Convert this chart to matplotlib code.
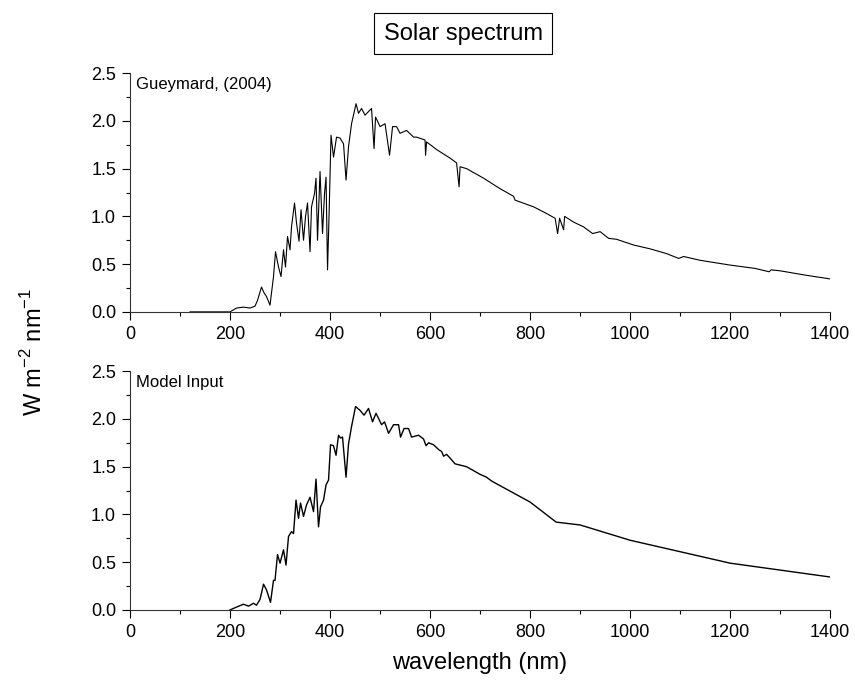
import numpy as np
import matplotlib
matplotlib.use("Agg")
import matplotlib.pyplot as plt
from matplotlib.ticker import MultipleLocator

plt.rcParams['font.family'] = ['Liberation Sans', 'DejaVu Sans']

# Gueymard (2004) spectrum (nm, W m-2 nm-1)
gue_wl = [120, 140, 160, 180, 200, 213, 227, 240, 250, 255, 263, 268, 273, 280, 287,
          291, 297, 302, 307, 311, 315, 320, 323, 329, 333, 338, 342, 347, 351, 355,
          360, 363, 369, 372, 375, 380, 385, 389, 392, 395, 398, 402, 407, 413, 420,
          427, 432, 437, 443, 452, 457, 463, 470, 483, 488, 491, 500, 510, 519, 525,
          533, 540, 553, 567, 573, 590, 591, 593, 613, 640, 653, 658, 660, 673, 707,
          740, 767, 770, 807, 833, 850, 855, 859, 867, 869, 887, 907, 925, 940, 957,
          973, 1007, 1040, 1073, 1097, 1107, 1140, 1200, 1250, 1278, 1282, 1300, 1350,
          1400]
gue_val = [0.0, 0.0, 0.0, 0.0, 0.0, 0.04, 0.05, 0.04, 0.06, 0.12, 0.26, 0.20, 0.16, 0.07, 0.37,
           0.63, 0.47, 0.37, 0.65, 0.47, 0.79, 0.65, 0.89, 1.14, 0.93, 0.74, 1.07, 0.75, 1.00, 1.14,
           0.63, 1.10, 1.24, 1.40, 0.75, 1.47, 0.82, 1.24, 1.41, 0.44, 1.00, 1.85, 1.62, 1.83, 1.82,
           1.76, 1.38, 1.73, 1.97, 2.18, 2.08, 2.13, 2.06, 2.13, 1.71, 2.04, 1.94, 1.97, 1.64, 1.94,
           1.94, 1.87, 1.90, 1.83, 1.83, 1.80, 1.64, 1.78, 1.70, 1.61, 1.56, 1.31, 1.52, 1.50, 1.40,
           1.29, 1.21, 1.17, 1.10, 1.03, 0.98, 0.82, 0.98, 0.86, 1.00, 0.94, 0.89, 0.82, 0.84, 0.77,
           0.76, 0.70, 0.66, 0.61, 0.56, 0.58, 0.54, 0.49, 0.455, 0.42, 0.44, 0.43, 0.385,
           0.345]

# Model input spectrum
mod_wl = [200, 213, 227, 237, 247, 253, 260, 267, 273, 281, 287, 290, 295, 300, 307,
          312, 317, 323, 327, 332, 337, 341, 347, 353, 360, 367, 372, 377, 381, 387,
          392, 397, 401, 407, 412, 417, 421, 425, 432, 437, 443, 451, 460, 468, 477,
          485, 492, 503, 509, 517, 527, 537, 541, 548, 557, 563, 577, 587, 592, 597,
          607, 617, 623, 627, 633, 640, 650, 673, 700, 713, 723, 800, 852, 900, 1000,
          1100, 1200, 1400]
mod_val = [0.0, 0.03, 0.06, 0.04, 0.07, 0.05, 0.11, 0.27, 0.21, 0.08, 0.31, 0.31, 0.58, 0.49, 0.63,
           0.47, 0.77, 0.82, 0.80, 1.15, 0.96, 1.12, 0.98, 1.10, 1.18, 1.03, 1.37, 0.87, 1.08, 1.15,
           1.31, 1.36, 1.73, 1.72, 1.62, 1.83, 1.80, 1.81, 1.39, 1.74, 1.92, 2.13, 2.09, 2.04, 2.11,
           1.97, 2.06, 1.94, 1.97, 1.85, 1.94, 1.94, 1.81, 1.90, 1.90, 1.81, 1.83, 1.79, 1.72, 1.75,
           1.73, 1.68, 1.66, 1.61, 1.63, 1.59, 1.53, 1.50, 1.42, 1.39, 1.35, 1.13, 0.92, 0.89, 0.73,
           0.61, 0.49, 0.345]

fig = plt.figure(figsize=(8.55, 6.9), dpi=100)
ax1 = fig.add_axes([0.152, 0.548, 0.819, 0.346])
ax2 = fig.add_axes([0.152, 0.116, 0.819, 0.346])

panels = [(ax1, gue_wl, gue_val, 'Gueymard, (2004)', 0.8),
          (ax2, mod_wl, mod_val, 'Model Input', 1.0)]

for ax, wl, val, label, lw in panels:
    ax.plot(wl, val, color='black', lw=lw)
    ax.set_xlim(0, 1400)
    ax.set_ylim(0, 2.5)
    ax.xaxis.set_major_locator(MultipleLocator(200))
    ax.xaxis.set_minor_locator(MultipleLocator(100))
    ax.yaxis.set_major_locator(MultipleLocator(0.5))
    ax.yaxis.set_minor_locator(MultipleLocator(0.25))
    ax.yaxis.set_major_formatter(plt.FormatStrFormatter('%.1f'))
    ax.spines['top'].set_visible(False)
    ax.spines['right'].set_visible(False)
    for s in ['left', 'bottom']:
        ax.spines[s].set_linewidth(0.8)
        ax.spines[s].set_color('#333333')
    ax.tick_params(which='major', direction='out', length=6, width=0.8, labelsize=13, pad=4)
    ax.tick_params(which='minor', direction='out', length=3, width=0.8)
    ax.text(0.008, 0.985, label, transform=ax.transAxes, ha='left', va='top', fontsize=12)

ax2.set_xlabel('wavelength (nm)', fontsize=17, labelpad=8)
fig.text(0.04, 0.49, r'W m$^{\mathregular{-2}}$ nm$^{\mathregular{-1}}$', rotation=90,
         ha='center', va='center', fontsize=17)
fig.text(0.542, 0.951, 'Solar spectrum', ha='center', va='center', fontsize=17,
         bbox=dict(boxstyle='square,pad=0.4', fc='white', ec='black', lw=0.8))

fig.savefig('out.png', dpi=100)
